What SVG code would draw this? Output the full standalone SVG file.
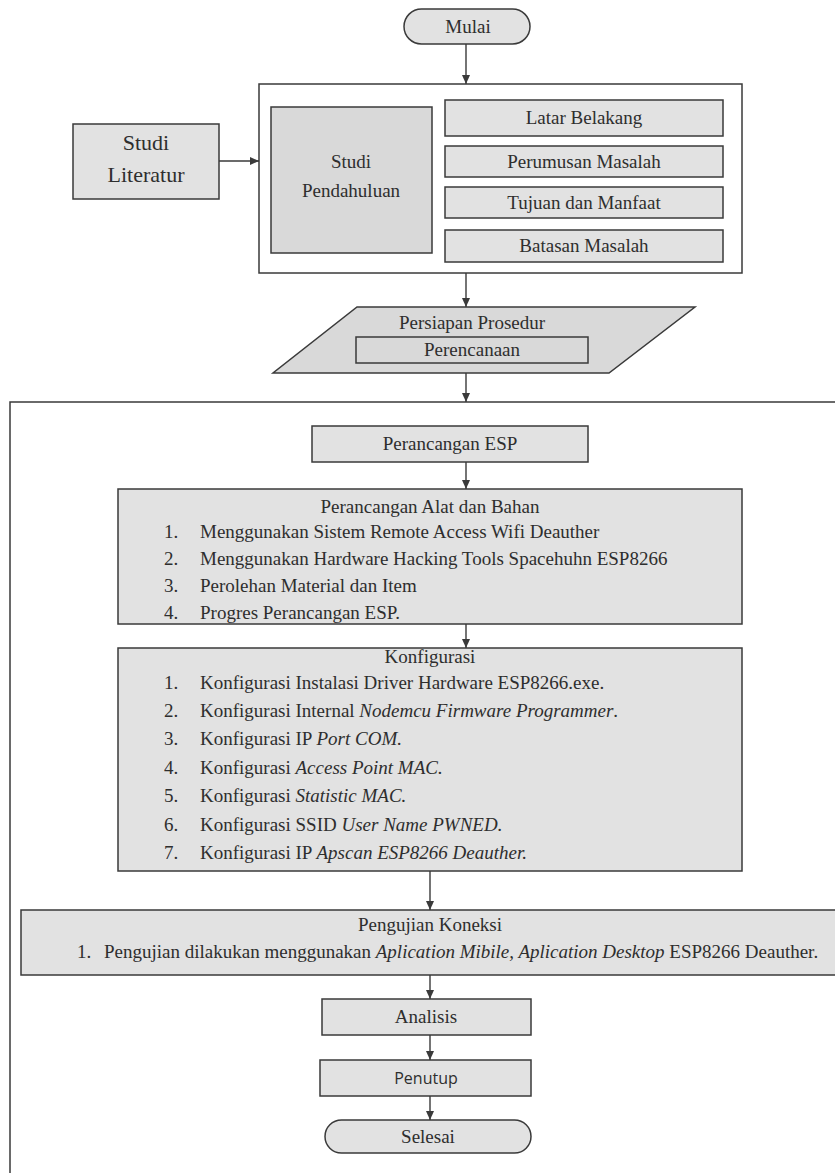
<svg xmlns="http://www.w3.org/2000/svg" width="835" height="1173" viewBox="0 0 835 1173">
<defs>
<marker id="ah" markerWidth="10" markerHeight="10" refX="9" refY="5" orient="auto" markerUnits="userSpaceOnUse">
<path d="M0,1 L9,5 L0,9 z" fill="#3a3a3a"/>
</marker>
<style>
.box{fill:#e2e2e2;stroke:#3a3a3a;stroke-width:1.5}
.dark{fill:#d9d9d9}
.frame{fill:#ffffff;stroke:#3a3a3a;stroke-width:1.5}
.t{font-family:"Liberation Serif","Times New Roman",serif;fill:#2e2e2e;font-size:19px}
.c{text-anchor:middle}
.it{font-style:italic}
.s{font-family:"Open Sans","Liberation Sans",sans-serif;fill:#2e2e2e;font-size:16px}
.con{stroke:#3a3a3a;stroke-width:1.4;fill:none;marker-end:url(#ah)}
</style>
</defs>
<rect width="835" height="1173" fill="#ffffff"/>

<g id="frame-main">
<path d="M835,402 H10 V1173" fill="none" stroke="#3a3a3a" stroke-width="1.5"/>
</g>

<g id="mulai">
<rect class="box" x="404" y="9" width="126" height="35" rx="17.5"/>
<text class="t c" x="468" y="33">Mulai</text>
</g>

<g id="studi-group">
<rect class="frame" x="259" y="84" width="483" height="189"/>
</g>

<g id="studi-literatur">
<rect class="box" x="73" y="124" width="146" height="75"/>
<text class="t c" x="146" y="150" style="font-size:22px">Studi</text>
<text class="t c" x="146" y="182" style="font-size:22px">Literatur</text>
</g>

<g id="studi-pendahuluan">
<rect class="box dark" x="271" y="107" width="161" height="146"/>
<text class="t c" x="351" y="168">Studi</text>
<text class="t c" x="351" y="197">Pendahuluan</text>
</g>

<g id="latar-belakang">
<rect class="box" x="445" y="100" width="278" height="36"/>
<text class="t c" x="584" y="124">Latar Belakang</text>
</g>
<g id="perumusan-masalah">
<rect class="box" x="445" y="146" width="278" height="31"/>
<text class="t c" x="584" y="168">Perumusan Masalah</text>
</g>
<g id="tujuan-manfaat">
<rect class="box" x="445" y="187" width="278" height="31"/>
<text class="t c" x="584" y="209">Tujuan dan Manfaat</text>
</g>
<g id="batasan-masalah">
<rect class="box" x="445" y="230" width="278" height="32"/>
<text class="t c" x="584" y="252">Batasan Masalah</text>
</g>

<g id="persiapan-prosedur">
<polygon class="box dark" points="357,307 695,307 609,373 273,373"/>
<text class="t c" x="472" y="329">Persiapan Prosedur</text>
<rect class="box dark" x="356" y="337" width="232" height="26"/>
<text class="t c" x="472" y="356">Perencanaan</text>
</g>

<g id="perancangan-esp">
<rect class="box" x="312" y="426" width="276" height="36"/>
<text class="t c" x="450" y="450">Perancangan ESP</text>
</g>

<g id="alat-bahan">
<rect class="box" x="118" y="489" width="624" height="135"/>
<text class="t c" x="430" y="513">Perancangan Alat dan Bahan</text>
<text class="t" x="164" y="538">1.</text><text class="t" x="200" y="538">Menggunakan Sistem Remote Access Wifi Deauther</text>
<text class="t" x="164" y="565">2.</text><text class="t" x="200" y="565">Menggunakan Hardware Hacking Tools Spacehuhn ESP8266</text>
<text class="t" x="164" y="592">3.</text><text class="t" x="200" y="592">Perolehan Material dan Item</text>
<text class="t" x="164" y="619">4.</text><text class="t" x="200" y="619">Progres Perancangan ESP.</text>
</g>

<g id="konfigurasi">
<rect class="box" x="118" y="648" width="624" height="223"/>
<text class="t c" x="430" y="663">Konfigurasi</text>
<text class="t" x="164" y="689">1.</text><text class="t" x="200" y="689">Konfigurasi Instalasi Driver Hardware ESP8266.exe.</text>
<text class="t" x="164" y="717">2.</text><text class="t" x="200" y="717">Konfigurasi Internal <tspan class="it">Nodemcu Firmware Programmer</tspan>.</text>
<text class="t" x="164" y="745">3.</text><text class="t" x="200" y="745">Konfigurasi IP <tspan class="it">Port COM.</tspan></text>
<text class="t" x="164" y="774">4.</text><text class="t" x="200" y="774">Konfigurasi <tspan class="it">Access Point MAC.</tspan></text>
<text class="t" x="164" y="802">5.</text><text class="t" x="200" y="802">Konfigurasi <tspan class="it">Statistic MAC.</tspan></text>
<text class="t" x="164" y="831">6.</text><text class="t" x="200" y="831">Konfigurasi SSID <tspan class="it">User Name PWNED.</tspan></text>
<text class="t" x="164" y="859">7.</text><text class="t" x="200" y="859">Konfigurasi IP <tspan class="it">Apscan ESP8266 Deauther.</tspan></text>
</g>

<g id="pengujian-koneksi">
<path class="box" d="M837,910 H21 V975 H837"/>
<text class="t c" x="430" y="931">Pengujian Koneksi</text>
<text class="t" x="77" y="958">1.</text><text class="t" x="104" y="958">Pengujian dilakukan menggunakan <tspan class="it">Aplication Mibile, Aplication Desktop</tspan> ESP8266 Deauther.</text>
</g>

<g id="analisis">
<rect class="box" x="322" y="999" width="209" height="36"/>
<text class="t c" x="426" y="1023">Analisis</text>
</g>

<g id="penutup">
<rect class="box" x="320" y="1060" width="211" height="36"/>
<text class="s c" x="426" y="1084">Penutup</text>
</g>

<g id="selesai">
<rect class="box" x="325" y="1120" width="206" height="33" rx="16.5"/>
<text class="t c" x="428" y="1143">Selesai</text>
</g>

<g id="connectors">
<line class="con" x1="466" y1="44" x2="466" y2="84"/>
<line class="con" x1="219" y1="161" x2="259" y2="161"/>
<line class="con" x1="466" y1="273" x2="466" y2="307"/>
<line class="con" x1="466" y1="373" x2="466" y2="402"/>
<line class="con" x1="466" y1="462" x2="466" y2="489"/>
<line class="con" x1="466" y1="624" x2="466" y2="648"/>
<line class="con" x1="430" y1="871" x2="430" y2="910"/>
<line class="con" x1="430" y1="975" x2="430" y2="999"/>
<line class="con" x1="430" y1="1035" x2="430" y2="1060"/>
<line class="con" x1="430" y1="1096" x2="430" y2="1120"/>
</g>
</svg>
